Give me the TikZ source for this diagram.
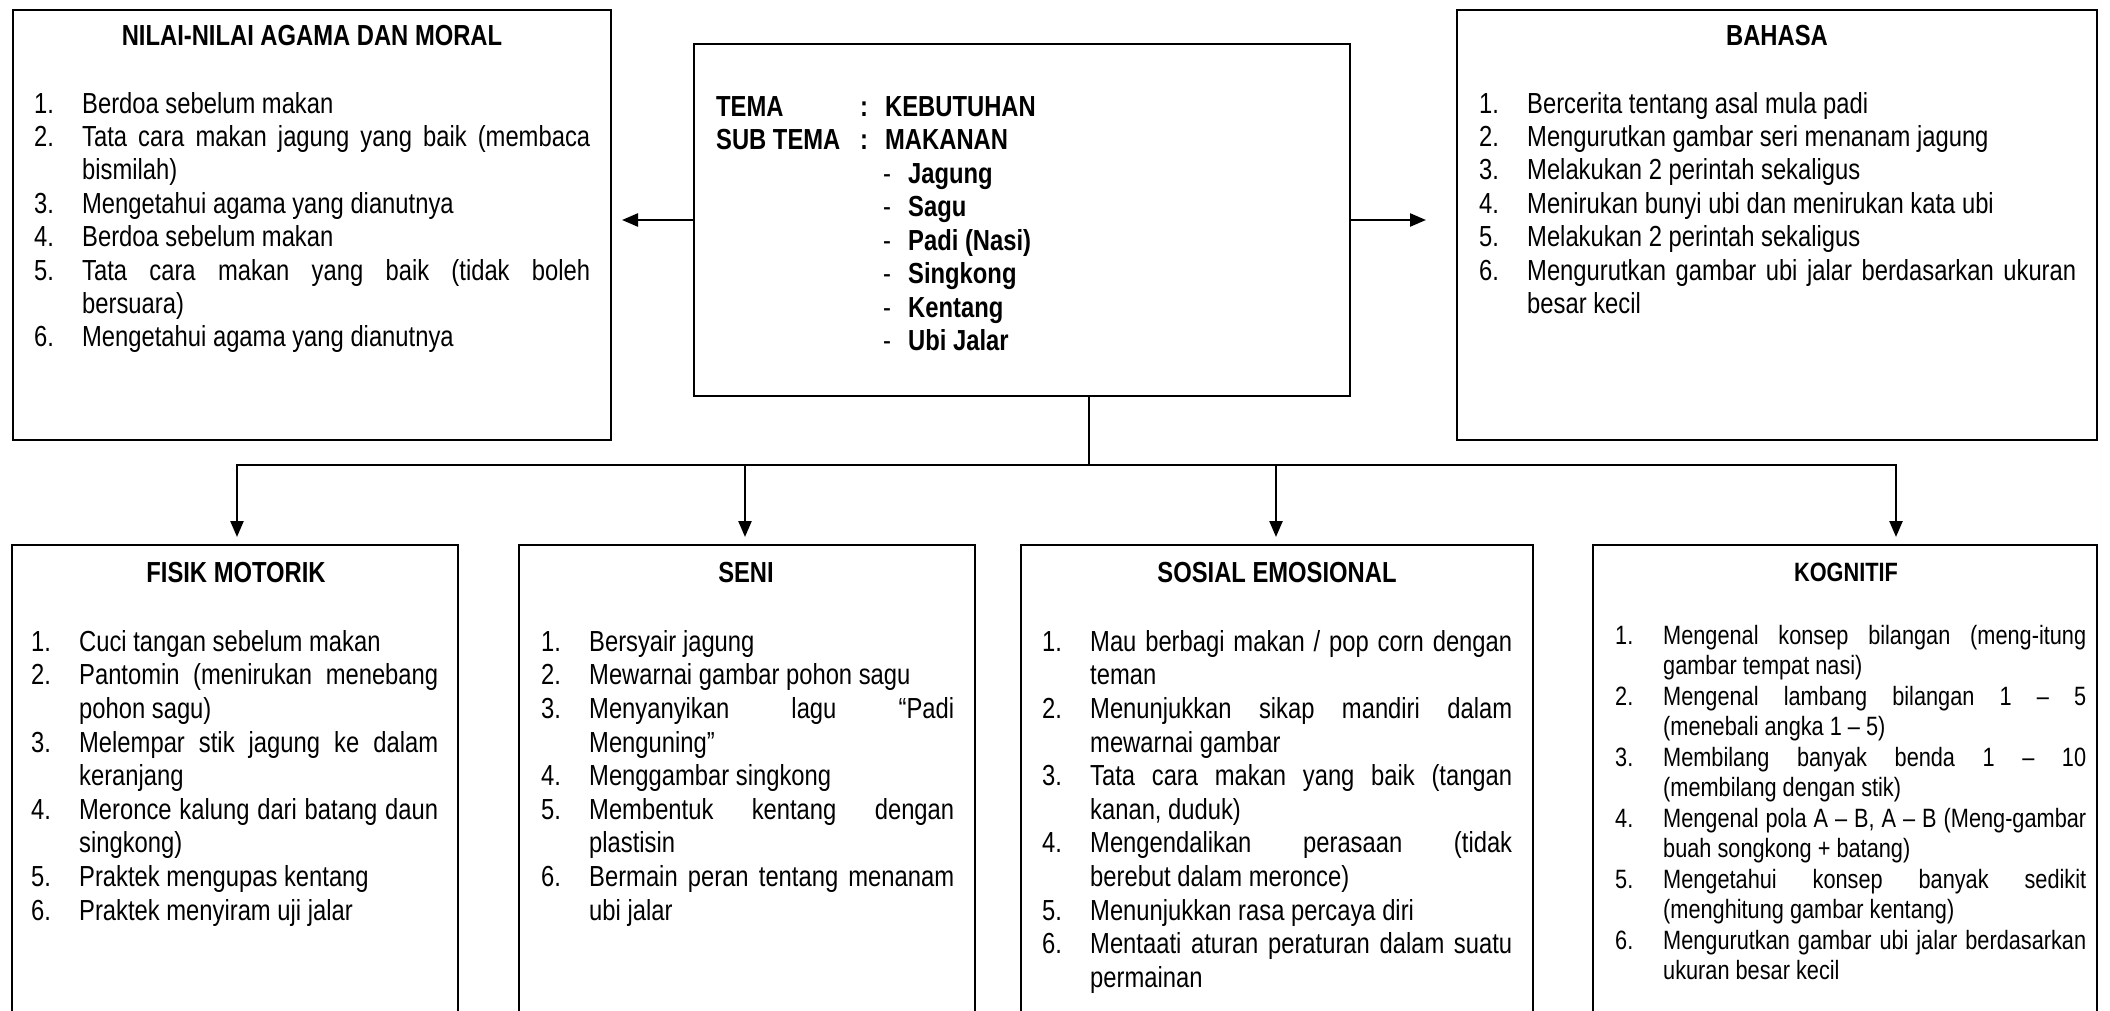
\documentclass[tikz,border=0pt]{standalone}
\usepackage{fontspec}
\setmainfont{Liberation Sans}[FakeStretch=0.82]
\usetikzlibrary{arrows.meta}
\newcommand\fbody{\fontsize{29}{33.4}\selectfont}
\newcommand\fbot{\fontsize{29}{33.6}\selectfont}
\newcommand\fcen{\fontsize{29}{33.5}\selectfont\bfseries}
\newcommand\fkog{\fontsize{26.5}{30.5}\selectfont}
\newcommand\fttl{\fontsize{29}{33.4}\selectfont\bfseries}
\newcommand\J[2]{\makebox[#1pt][s]{#2}}
\newcommand\N[1]{\makebox[48pt][l]{#1}}
\newcommand\FS{\strut}
\begin{document}
\begin{tikzpicture}[x=1pt,y=-1pt,
  box/.style={draw=black,line width=1.6pt,outer sep=0pt,inner sep=0pt,anchor=north west},
  conn/.style={line width=2.4pt},
  arr/.style={conn,-{Triangle[length=16pt,width=13pt]}},
  txt/.style={anchor=north west,inner sep=0pt,align=left},
  ttl/.style={anchor=base,inner sep=0pt,font=\fttl}]
\useasboundingbox (0,0) rectangle (2110,1011);
\clip (0,0) rectangle (2110,1011);
\fill[white] (0,0) rectangle (2110,1011);
% boxes
\node[box,minimum width=598,minimum height=430] (nilai) at (13,10) {};
\node[box,minimum width=656,minimum height=352] (tema) at (694,44) {};
\node[box,minimum width=640,minimum height=430] (bahasa) at (1457,10) {};
\node[box,minimum width=446,minimum height=520] (fisik) at (12,545) {};
\node[box,minimum width=456,minimum height=520] (seni) at (519,545) {};
\node[box,minimum width=512,minimum height=520] (sosial) at (1021,545) {};
\node[box,minimum width=504,minimum height=520] (kog) at (1593,545) {};
% connectors
\coordinate (lt) at ([xshift=11pt]nilai.east |- tema.west);
\coordinate (rt) at ([xshift=-31pt]bahasa.west |- tema.east);
\draw[arr] (tema.west) -- (lt);
\draw[arr] (tema.east) -- (rt);
\coordinate (hub) at (1089,465);
\coordinate (b1) at (237,465);
\coordinate (b2) at (745,465);
\coordinate (b3) at (1276,465);
\coordinate (b4) at (1896,465);
\draw[conn] (tema.south -| hub) -- (hub);
\draw[conn,line cap=rect] (b1) -- (b4);
\draw[arr,shorten >=8pt] (b1) -- (b1 |- fisik.north);
\draw[arr,shorten >=8pt] (b2) -- (b2 |- seni.north);
\draw[arr,shorten >=8pt] (b3) -- (b3 |- sosial.north);
\draw[arr,shorten >=8pt] (b4) -- (b4 |- kog.north);
% titles
\node[ttl] (nilaiH) at (312,46) {NILAI-NILAI AGAMA DAN MORAL};
\node[ttl] (bahasaH) at (1777,46) {BAHASA};
\node[ttl] (fisikH) at (236,582) {FISIK MOTORIK};
\node[ttl] (seniH) at (746,582) {SENI};
\node[ttl] (sosH) at (1277,582) {SOSIAL EMOSIONAL};
\node[ttl,font=\fkog\bfseries] (kogH) at (1846,581) {KOGNITIF};
% central text
\node[txt,font=\fcen] (temaT) at (716,92.6) {\FS\makebox[144pt][l]{TEMA}\makebox[25pt][l]{:}KEBUTUHAN\\
\makebox[144pt][l]{SUB TEMA}\makebox[25pt][l]{:}MAKANAN\\
\hspace*{167pt}\makebox[25pt][l]{\mdseries-}Jagung\\
\hspace*{167pt}\makebox[25pt][l]{\mdseries-}Sagu\\
\hspace*{167pt}\makebox[25pt][l]{\mdseries-}Padi (Nasi)\\
\hspace*{167pt}\makebox[25pt][l]{\mdseries-}Singkong\\
\hspace*{167pt}\makebox[25pt][l]{\mdseries-}Kentang\\
\hspace*{167pt}\makebox[25pt][l]{\mdseries-}Ubi Jalar};
% NILAI
\node[txt,font=\fbody] (nilaiT) at (34,89.6) {\FS\N{1.}Berdoa sebelum makan\\
\N{2.}\J{508}{Tata cara makan jagung yang baik (membaca}\\
\N{}bismilah)\\
\N{3.}Mengetahui agama yang dianutnya\\
\N{4.}Berdoa sebelum makan\\
\N{5.}\J{508}{Tata cara makan yang baik (tidak boleh}\\
\N{}bersuara)\\
\N{6.}Mengetahui agama yang dianutnya};
% BAHASA
\node[txt,font=\fbody] (bahasaT) at (1479,89.6) {\FS\N{1.}Bercerita tentang asal mula padi\\
\N{2.}Mengurutkan gambar seri menanam jagung\\
\N{3.}Melakukan 2 perintah sekaligus\\
\N{4.}Menirukan bunyi ubi dan menirukan kata ubi\\
\N{5.}Melakukan 2 perintah sekaligus\\
\N{6.}\J{549}{Mengurutkan gambar ubi jalar berdasarkan ukuran}\\
\N{}besar kecil};
% FISIK
\node[txt,font=\fbot] (fisikT) at (31,627.5) {\FS\N{1.}Cuci tangan sebelum makan\\
\N{2.}\J{359}{Pantomin (menirukan menebang}\\
\N{}pohon sagu)\\
\N{3.}\J{359}{Melempar stik jagung ke dalam}\\
\N{}keranjang\\
\N{4.}\J{359}{Meronce kalung dari batang daun}\\
\N{}singkong)\\
\N{5.}Praktek mengupas kentang\\
\N{6.}Praktek menyiram uji jalar};
% SENI
\node[txt,font=\fbot] (seniT) at (541,627.5) {\FS\N{1.}Bersyair jagung\\
\N{2.}Mewarnai gambar pohon sagu\\
\N{3.}\J{365}{Menyanyikan lagu “Padi}\\
\N{}Menguning”\\
\N{4.}Menggambar singkong\\
\N{5.}\J{365}{Membentuk kentang dengan}\\
\N{}plastisin\\
\N{6.}\J{365}{Bermain peran tentang menanam}\\
\N{}ubi jalar};
% SOSIAL
\node[txt,font=\fbot] (sosT) at (1042,627.5) {\FS\N{1.}\J{422}{Mau berbagi makan / pop corn dengan}\\
\N{}teman\\
\N{2.}\J{422}{Menunjukkan sikap mandiri dalam}\\
\N{}mewarnai gambar\\
\N{3.}\J{422}{Tata cara makan yang baik (tangan}\\
\N{}kanan, duduk)\\
\N{4.}\J{422}{Mengendalikan perasaan (tidak}\\
\N{}berebut dalam meronce)\\
\N{5.}Menunjukkan rasa percaya diri\\
\N{6.}\J{422}{Mentaati aturan peraturan dalam suatu}\\
\N{}permainan};
% KOGNITIF
\node[txt,font=\fkog] (kogT) at (1615,622.6) {\FS\N{1.}\J{423}{Mengenal konsep bilangan (meng-itung}\\
\N{}gambar tempat nasi)\\
\N{2.}\J{423}{Mengenal lambang bilangan 1 – 5}\\
\N{}(menebali angka 1 – 5)\\
\N{3.}\J{423}{Membilang banyak benda 1 – 10}\\
\N{}(membilang dengan stik)\\
\N{4.}\J{423}{Mengenal pola A – B, A – B (Meng-gambar}\\
\N{}buah songkong + batang)\\
\N{5.}\J{423}{Mengetahui konsep banyak sedikit}\\
\N{}(menghitung gambar kentang)\\
\N{6.}\J{423}{Mengurutkan gambar ubi jalar berdasarkan}\\
\N{}ukuran besar kecil};
\end{tikzpicture}
\end{document}
